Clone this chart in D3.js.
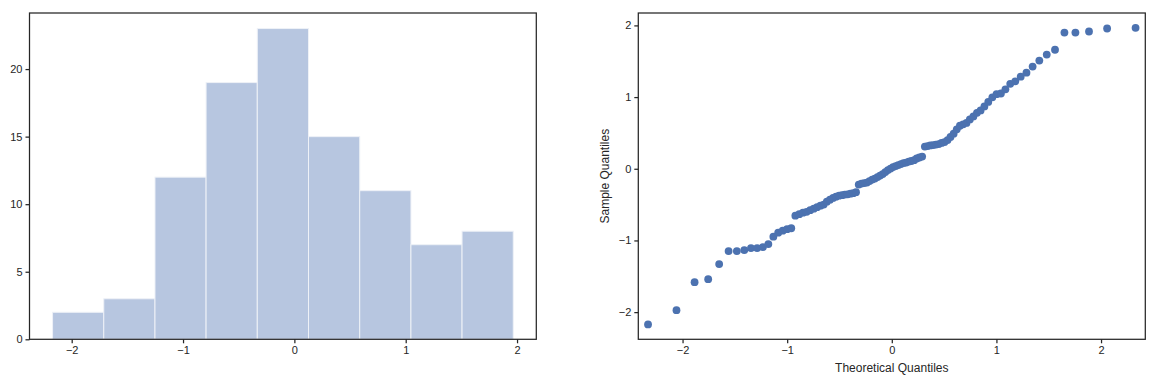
<!DOCTYPE html>
<html>
<head>
<meta charset="utf-8">
<script src="https://cdn.jsdelivr.net/npm/d3@7"></script>
<style>
  body { margin: 0; background: #fff; }
  svg text { font-family: "Liberation Sans", Arial, sans-serif; fill: #262626; }
</style>
</head>
<body>
<script>
// histogram: bin edges and counts
var binEdges = [-2.172, -1.712, -1.252, -0.793, -0.333, 0.127, 0.587, 1.047, 1.506, 1.966];
var binCounts = [2, 3, 12, 19, 23, 15, 11, 7, 8];
var histXTicks = [-2, -1, 0, 1, 2];
var histYTicks = [0, 5, 10, 15, 20];

// qq plot: theoretical normal quantiles (n = 100) and sorted sample values
var theoretical = [
  -2.330, -2.058, -1.885, -1.755, -1.650, -1.560, -1.481, -1.410, -1.346, -1.287,
  -1.232, -1.180, -1.132, -1.086, -1.043, -1.001, -0.961, -0.922, -0.885, -0.849,
  -0.814, -0.780, -0.746, -0.714, -0.682, -0.651, -0.621, -0.591, -0.561, -0.533,
  -0.504, -0.476, -0.449, -0.422, -0.395, -0.368, -0.342, -0.316, -0.290, -0.264,
  -0.238, -0.213, -0.187, -0.162, -0.137, -0.112, -0.087, -0.062, -0.037, -0.012,
  0.012, 0.037, 0.062, 0.087, 0.112, 0.137, 0.162, 0.187, 0.213, 0.238,
  0.264, 0.290, 0.316, 0.342, 0.368, 0.395, 0.422, 0.449, 0.476, 0.504,
  0.533, 0.561, 0.591, 0.621, 0.651, 0.682, 0.714, 0.746, 0.780, 0.814,
  0.849, 0.885, 0.922, 0.961, 1.001, 1.043, 1.086, 1.132, 1.180, 1.232,
  1.287, 1.346, 1.410, 1.481, 1.560, 1.650, 1.755, 1.885, 2.058, 2.330
];
var sample = [
  -2.172, -1.973, -1.582, -1.540, -1.330, -1.148, -1.148, -1.134, -1.106, -1.106,
  -1.092, -1.050, -0.948, -0.892, -0.864, -0.843, -0.830, -0.655, -0.634, -0.613,
  -0.600, -0.578, -0.557, -0.536, -0.515, -0.500, -0.459, -0.431, -0.407, -0.389,
  -0.375, -0.368, -0.360, -0.357, -0.347, -0.340, -0.326, -0.221, -0.207, -0.200,
  -0.193, -0.172, -0.151, -0.137, -0.116, -0.095, -0.074, -0.046, -0.018, 0.003,
  0.024, 0.038, 0.052, 0.066, 0.080, 0.087, 0.100, 0.108, 0.120, 0.143,
  0.157, 0.170, 0.310, 0.317, 0.325, 0.330, 0.338, 0.345, 0.360, 0.373,
  0.400, 0.443, 0.490, 0.550, 0.600, 0.620, 0.640, 0.688, 0.730, 0.780,
  0.814, 0.870, 0.933, 0.996, 1.040, 1.050, 1.108, 1.185, 1.220, 1.285,
  1.341, 1.425, 1.509, 1.593, 1.660, 1.900, 1.900, 1.915, 1.957, 1.966
];
var qqTicks = [-2, -1, 0, 1, 2];

var width = 1158, height = 380;
var ink = "#262626", blue = "#4c72b0";

var svg = d3.select("body").append("svg")
  .attr("width", width)
  .attr("height", height);

function minusFmt(d) { return String(d).replace("-", "\u2212"); }

function frame(g, x0, x1, y0, y1) {
  g.append("rect")
    .attr("x", x0).attr("y", y0)
    .attr("width", x1 - x0).attr("height", y1 - y0)
    .attr("fill", "none")
    .attr("stroke", ink)
    .attr("stroke-width", 1.25);
}

function styleAxis(sel) {
  sel.select(".domain").remove();
  sel.selectAll(".tick line").attr("stroke", ink).attr("stroke-width", 1.25);
  sel.selectAll(".tick text")
    .attr("fill", ink)
    .style("font-size", "11px")
    .style("font-family", "'Liberation Sans', Arial, sans-serif");
}

// ---------- left: histogram ----------
var hx0 = 29.5, hx1 = 536.3, hy0 = 13, hy1 = 339.3;
var hx = d3.scaleLinear().domain([-2.379, 2.173]).range([hx0, hx1]);
var hy = d3.scaleLinear().domain([0, 24.15]).range([hy1, hy0]);

var hist = svg.append("g");
hist.selectAll("rect.bar")
  .data(binCounts)
  .enter()
  .append("rect")
  .attr("class", "bar")
  .attr("x", (d, i) => hx(binEdges[i]))
  .attr("y", d => hy(d))
  .attr("width", (d, i) => hx(binEdges[i + 1]) - hx(binEdges[i]))
  .attr("height", d => hy(0) - hy(d))
  .attr("fill", "#b7c6e0")
  .attr("stroke", "#eef1f7")
  .attr("stroke-width", 1);

hist.append("g")
  .attr("transform", "translate(0," + hy1 + ")")
  .call(d3.axisBottom(hx).tickValues(histXTicks).tickSize(4).tickPadding(3).tickFormat(minusFmt))
  .call(styleAxis);
hist.append("g")
  .attr("transform", "translate(" + hx0 + ",0)")
  .call(d3.axisLeft(hy).tickValues(histYTicks).tickSize(4).tickPadding(3).tickFormat(minusFmt))
  .call(styleAxis);
frame(hist, hx0, hx1, hy0, hy1);

// ---------- right: qq plot ----------
var qx0 = 638.3, qx1 = 1145.3, qy0 = 13, qy1 = 339.3;
var qx = d3.scaleLinear().domain([-2.423, 2.423]).range([qx0, qx1]);
var qy = d3.scaleLinear().domain([-2.379, 2.173]).range([qy1, qy0]);

var qq = svg.append("g");
qq.selectAll("circle")
  .data(sample)
  .enter()
  .append("circle")
  .attr("cx", (d, i) => qx(theoretical[i]))
  .attr("cy", d => qy(d))
  .attr("r", 3.9)
  .attr("fill", blue);

qq.append("g")
  .attr("transform", "translate(0," + qy1 + ")")
  .call(d3.axisBottom(qx).tickValues(qqTicks).tickSize(4).tickPadding(3).tickFormat(minusFmt))
  .call(styleAxis);
qq.append("g")
  .attr("transform", "translate(" + qx0 + ",0)")
  .call(d3.axisLeft(qy).tickValues(qqTicks).tickSize(4).tickPadding(3).tickFormat(minusFmt))
  .call(styleAxis);
frame(qq, qx0, qx1, qy0, qy1);

qq.append("text")
  .attr("x", (qx0 + qx1) / 2)
  .attr("y", 372)
  .attr("text-anchor", "middle")
  .style("font-size", "12px")
  .text("Theoretical Quantiles");

qq.append("text")
  .attr("transform", "translate(609," + ((qy0 + qy1) / 2) + ") rotate(-90)")
  .attr("text-anchor", "middle")
  .style("font-size", "12px")
  .text("Sample Quantiles");
</script>
</body>
</html>
